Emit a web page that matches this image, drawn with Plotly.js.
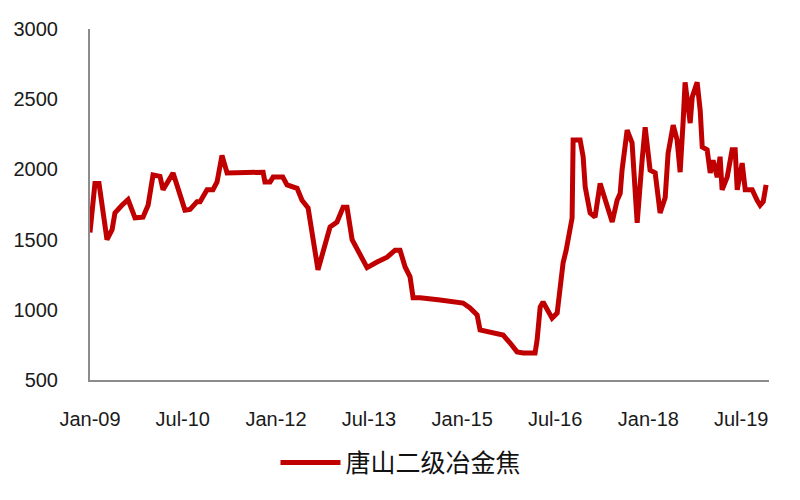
<!DOCTYPE html>
<html>
<head>
<meta charset="utf-8">
<script src="https://cdn.plot.ly/plotly-3.0.1.min.js"></script>
<style>html,body{margin:0;padding:0;background:#fff;}#chart{width:800px;height:500px;}</style>
</head>
<body>
<div id="chart"></div>
<script>
const seriesName = "唐山二级冶金焦";
const dates = [
"2009-01-01","2009-01-30","2009-02-23","2009-04-11","2009-05-11","2009-05-28","2009-07-08","2009-08-13","2009-09-23","2009-11-09",
"2009-12-09","2010-01-07","2010-02-17","2010-03-07","2010-05-05","2010-07-14","2010-08-13","2010-09-23","2010-10-11","2010-11-21",
"2010-12-26","2011-01-19","2011-02-17","2011-03-19","2011-10-17","2011-10-28","2011-11-27","2011-12-15","2012-02-10","2012-03-06",
"2012-05-04","2012-06-02","2012-07-08","2012-09-04","2012-11-14","2012-12-25","2013-01-30","2013-02-22","2013-03-24","2013-04-28",
"2013-06-20","2013-08-18","2013-10-16","2013-12-02","2013-12-31","2014-01-30","2014-02-28","2014-03-18","2014-04-28","2014-08-24",
"2014-12-20","2015-01-06","2015-02-16","2015-03-30","2015-04-16","2015-07-02","2015-08-30","2015-10-10","2015-11-20","2015-12-26",
"2016-03-05","2016-03-17","2016-04-04","2016-04-21","2016-06-13","2016-07-13","2016-07-30","2016-08-17","2016-09-04","2016-09-27",
"2016-10-09","2016-10-15","2016-11-25","2016-12-13","2016-12-25","2017-01-23","2017-02-21","2017-03-23","2017-05-03","2017-06-02",
"2017-07-01","2017-07-19","2017-07-30","2017-08-29","2017-09-27","2017-10-27","2017-11-25","2017-12-13","2018-01-11","2018-02-10",
"2018-03-11","2018-04-10","2018-04-27","2018-05-27","2018-06-19","2018-07-07","2018-07-25","2018-08-05","2018-09-04","2018-09-16",
"2018-10-15","2018-11-02","2018-11-14","2018-12-13","2018-12-31","2019-01-17","2019-02-10","2019-02-27","2019-03-11","2019-04-10",
"2019-05-09","2019-05-27","2019-06-08","2019-07-07","2019-07-25","2019-09-04","2019-10-03","2019-10-21","2019-11-08","2019-11-25"
];
const prices = [
1550,1900,1900,1500,1570,1690,1745,1785,1655,1660,
1745,1960,1950,1855,1975,1710,1715,1770,1770,1855,
1855,1910,2100,1975,1980,1910,1910,1945,1945,1890,
1865,1780,1725,1285,1590,1625,1730,1730,1500,1425,
1300,1340,1375,1425,1425,1305,1235,1085,1085,1070,
1055,1048,1013,963,856,835,820,763,700,692,
692,785,1020,1055,940,977,1140,1335,1425,1590,
1655,2210,2210,2090,1875,1690,1660,1900,1730,1625,
1780,1830,1995,2280,2190,1620,2065,2300,1995,1975,
1690,1800,2115,2315,2210,1980,2350,2620,2330,2515,
2620,2420,2160,2140,1975,2065,1945,2090,1855,1945,
2140,2140,1855,2045,1855,1855,1780,1745,1770,1890
];
const xTickVals = ["2009-01-01","2010-07-01","2012-01-01","2013-07-01","2015-01-01","2016-07-01","2018-01-01","2019-07-01"];
const xTickText = ["Jan-09","Jul-10","Jan-12","Jul-13","Jan-15","Jul-16","Jan-18","Jul-19"];
const yTickVals = [500,1000,1500,2000,2500,3000];

const trace = {
  x: dates, y: prices, type: "scatter", mode: "lines", name: seriesName,
  line: {color: "#C00000", width: 5}
};
const layout = {
  width: 800, height: 500,
  margin: {l: 90, r: 31, t: 29, b: 120},
  paper_bgcolor: "#fff", plot_bgcolor: "#fff",
  font: {family: "Liberation Sans, Arial, sans-serif", color: "#1a1a1a", size: 20},
  xaxis: {
    type: "date", range: ["2009-01-01","2019-12-12"],
    tickvals: xTickVals, ticktext: xTickText,
    showgrid: false, zeroline: false, showline: true, linecolor: "#8c8c8c", linewidth: 2,
    ticks: "", ticklabelstandoff: 20, tickfont: {size: 20, color: "#1a1a1a"}
  },
  yaxis: {
    range: [500, 3000], tickvals: yTickVals,
    showgrid: false, zeroline: false, showline: true, linecolor: "#8c8c8c", linewidth: 2,
    ticks: "", ticklabelstandoff: 26, tickfont: {size: 20, color: "#1a1a1a"}
  },
  showlegend: true,
  legend: {
    orientation: "h", x: 0.458, xanchor: "center", y: -0.236, yanchor: "middle",
    font: {family: "Noto Sans CJK SC, sans-serif", size: 25, color: "#111"},
    itemwidth: 60, bgcolor: "rgba(0,0,0,0)"
  }
};
Plotly.newPlot("chart", [trace], layout, {displayModeBar: false, staticPlot: true});
</script>
</body>
</html>
